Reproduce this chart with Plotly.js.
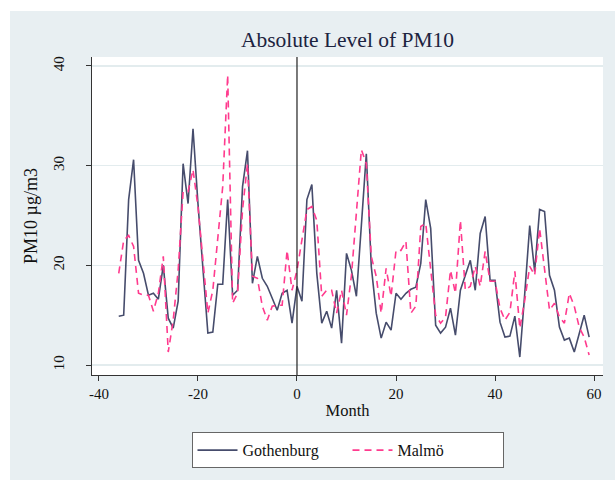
<!DOCTYPE html>
<html>
<head>
<meta charset="utf-8">
<script src="https://cdn.plot.ly/plotly-3.0.1.min.js"></script>
<style>
html,body{margin:0;padding:0;background:#ffffff;}
#wrap{position:relative;width:615px;height:480px;}
#bg{position:absolute;left:10px;top:11px;width:605px;height:469px;background:#e8eff2;}
#chart{position:absolute;left:0;top:0;width:615px;height:480px;}
</style>
</head>
<body>
<div id="wrap"><div id="bg"></div><div id="chart"></div></div>
<script>
var months = [];
for (var m = -36; m <= 59; m++) months.push(m);

var gothenburg = [
14.9,15.0,26.6,30.6,20.5,19.2,17.0,17.2,16.6,20.0,
14.7,13.7,16.4,30.2,26.2,33.7,26.2,19.9,13.2,13.3,
18.1,18.1,26.6,17.0,17.5,27.9,31.5,18.2,20.9,18.7,
17.9,16.7,15.5,17.2,17.5,14.2,17.9,16.4,26.6,28.1,
19.2,14.2,15.4,13.7,17.5,12.2,21.2,19.5,16.9,24.0,
31.2,19.9,15.2,12.7,14.3,13.5,17.2,16.6,17.2,17.6,
17.8,20.2,26.6,23.7,14.0,13.2,13.8,15.7,13.0,17.5,
18.9,20.5,17.5,23.2,24.9,18.5,18.5,14.3,12.8,12.9,
14.9,10.8,17.2,24.0,19.4,25.6,25.4,19.0,17.5,13.8,
12.5,12.7,11.3,13.2,15.0,12.8];

var malmo = [
19.2,22.5,23.0,21.9,17.2,17.0,17.0,15.4,17.2,20.9,
11.3,14.5,19.5,27.4,27.4,29.6,25.9,20.2,15.2,17.5,
22.5,27.9,39.1,16.2,17.2,25.6,30.2,18.9,18.7,15.9,
14.5,15.9,16.0,16.0,21.5,17.5,19.5,22.5,25.6,25.9,
24.5,16.9,17.5,17.5,15.2,17.5,15.0,19.0,25.0,31.6,
30.2,20.9,18.9,15.2,19.7,16.9,21.5,21.5,22.4,15.2,
15.9,23.9,24.2,19.5,15.0,14.2,14.8,19.5,17.2,24.5,
17.5,17.9,19.9,17.9,21.4,18.4,18.4,15.7,14.5,15.3,
19.4,13.7,16.5,19.9,19.0,23.7,19.5,15.5,16.2,14.8,
14.2,17.2,15.9,13.8,12.8,11.0];

var seriesNames = ['Gothenburg', 'Malmö'];
var xTicks = [-40, -20, 0, 20, 40, 60];
var yTicks = [10, 20, 30, 40];
var cutoff = 0;

var serif = 'Liberation Serif, Times New Roman, serif';

var traces = [
  {x: months, y: gothenburg, name: seriesNames[0], type: 'scatter', mode: 'lines',
   line: {color: '#464c6c', width: 1.6}},
  {x: months, y: malmo, name: seriesNames[1], type: 'scatter', mode: 'lines',
   line: {color: '#ff3b8e', width: 1.6, dash: '7px,5px'}}
];

var layout = {
  width: 615, height: 480,
  paper_bgcolor: 'rgba(0,0,0,0)',
  plot_bgcolor: '#ffffff',
  margin: {l: 92, r: 12, t: 57, b: 105},
  showlegend: true,
  font: {family: serif, color: '#111111'},
  title: {text: 'Absolute Level of PM10', font: {family: serif, size: 21.5, color: '#1c2340'},
          x: 0.5, xref: 'paper', xanchor: 'center', y: 0.918, yanchor: 'middle'},
  xaxis: {range: [-41.4, 61.8], tickvals: xTicks, ticktext: xTicks.map(String),
          showgrid: false, zeroline: false, showline: true, linecolor: '#333333', linewidth: 1,
          ticks: 'outside', ticklen: 5, tickcolor: '#333333',
          tickfont: {family: serif, size: 15, color: '#111111'},
          title: {text: 'Month', font: {family: serif, size: 16.5, color: '#111111'}, standoff: 3}},
  yaxis: {range: [9.0, 40.9], tickvals: yTicks, ticktext: yTicks.map(String),
          showgrid: true, gridcolor: '#e3ecee', gridwidth: 1.5, zeroline: false,
          showline: true, linecolor: '#333333', linewidth: 1,
          ticks: 'outside', ticklen: 5, tickcolor: '#333333', tickangle: -90,
          ticklabelstandoff: 16,
          tickfont: {family: serif, size: 15, color: '#111111'},
          title: {text: 'PM10 µg/m3', font: {family: serif, size: 18, color: '#111111'}, standoff: 8}},
  shapes: [{type: 'line', xref: 'x', yref: 'paper', x0: cutoff, x1: cutoff, y0: 0, y1: 1,
            line: {color: '#222222', width: 1.2}}],
  legend: {orientation: 'h', x: 0.5, xanchor: 'center', y: -0.18, yanchor: 'top',
           bgcolor: '#ffffff', bordercolor: '#666666', borderwidth: 1,
           font: {family: serif, size: 16, color: '#111111'},
           entrywidth: 100, itemwidth: 40}
};

Plotly.newPlot('chart', traces, layout, {displayModeBar: false, staticPlot: true});
</script>
</body>
</html>
